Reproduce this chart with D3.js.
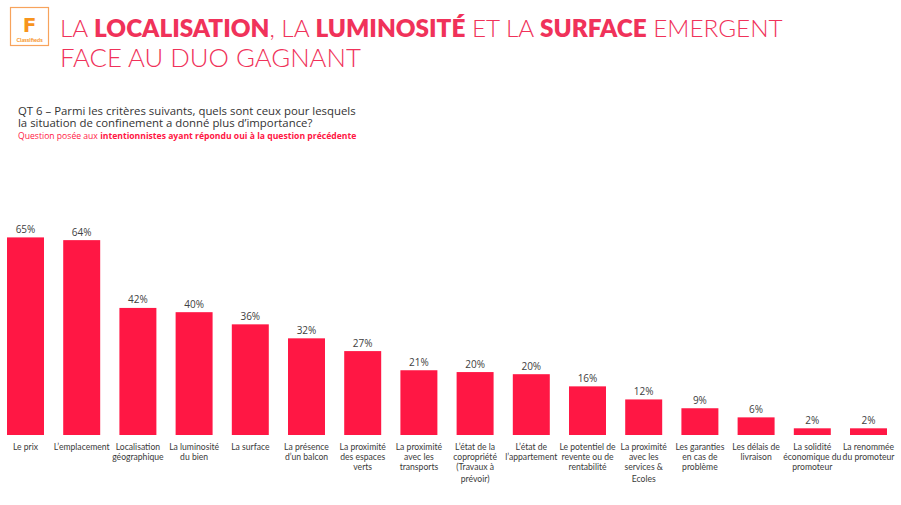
<!DOCTYPE html>
<html lang="fr">
<head>
<meta charset="UTF-8">
<title>Critères confinement</title>
<script src="https://cdn.jsdelivr.net/npm/d3@7"></script>
<style>
    body { margin: 0; background: #fff; }
    svg { display: block; }
    .cat { font-family: Lato, "Open Sans", sans-serif; font-size: 8.6px; fill: #3a3a3a; }
    .val { font-family: "Open Sans", sans-serif; font-size: 10px; fill: #404040; }
</style>
</head>
<body>
<script>
    // categories (lines separated by |)
    var categories = [
        "Le prix", "L’emplacement", "Localisation|géographique", "La luminosité|du bien",
        "La surface", "La présence|d’un balcon", "La proximité|des espaces|verts",
        "La proximité|avec les|transports", "L’état de la|copropriété|(Travaux à|prévoir)",
        "L’état de|l’appartement", "Le potentiel de|revente ou de|rentabilité",
        "La proximité|avec les|services &|Ecoles", "Les garanties|en cas de|problème",
        "Les délais de|livraison", "La solidité|économique du|promoteur", "La renommée|du promoteur"
    ];
    // bar heights as read on the picture
    var values = [65, 64.1, 41.8, 40.4, 36.4, 31.8, 27.6, 21.3, 20.7, 20, 16, 11.7, 8.8, 5.8, 2.2, 2.2];
    // printed labels
    var valueLabels = ["65%", "64%", "42%", "40%", "36%", "32%", "27%", "21%", "20%", "20%", "16%", "12%", "9%", "6%", "2%", "2%"];

    var W = 901, H = 505;
    var red = "#ff1744", titleRed = "#f0325a", orange = "#f7941d";

    var svg = d3.select("body").append("svg")
        .attr("width", W).attr("height", H);

    // logo
    var logo = svg.append("g");
    logo.append("rect").attr("x", 10.5).attr("y", 7.5).attr("width", 38).attr("height", 38)
        .attr("fill", "#fff").attr("stroke", "#f7a35c").attr("stroke-width", 1.2);
    logo.append("text").attr("x", 29.5).attr("y", 32)
        .attr("text-anchor", "middle")
        .style("font-family", "'DejaVu Sans', sans-serif").style("font-weight", "bold")
        .style("font-size", "20px").attr("fill", orange).text("F");
    logo.append("text").attr("x", 29.5).attr("y", 41.5)
        .attr("text-anchor", "middle")
        .style("font-family", "Lato, sans-serif").style("font-weight", "bold")
        .style("font-size", "5.6px").attr("fill", orange).text("Classifieds");

    // title
    var title = svg.append("g")
        .style("font-family", "Lato, 'Open Sans', sans-serif")
        .style("font-size", "25px").attr("fill", titleRed);
    var t1 = title.append("text").attr("x", 60).attr("y", 37);
    [["LA ", 300], ["LOCALISATION", 800], [", LA ", 300], ["LUMINOSITÉ", 800],
     [" ET LA ", 300], ["SURFACE", 800], [" EMERGENT", 300]].forEach(function (p) {
        t1.append("tspan").style("font-weight", p[1]).text(p[0]);
    });
    var t2 = title.append("text").attr("x", 60).attr("y", 67).style("font-weight", 300)
        .text("FACE AU DUO GAGNANT");
    // size each title line to the reference width
    t1.style("font-size", (25 * 723 / t1.node().getComputedTextLength()) + "px");
    t2.style("font-size", (25 * 301 / t2.node().getComputedTextLength()) + "px");

    // question
    var q = svg.append("g").style("font-family", "'Open Sans', sans-serif");
    var q1 = q.append("text").attr("x", 18).attr("y", 115).style("font-size", "11px").attr("fill", "#333")
        .text("QT 6 – Parmi les critères suivants, quels sont ceux pour lesquels");
    q1.style("font-size", (11 * 338 / q1.node().getComputedTextLength()) + "px");
    q.append("text").attr("x", 18).attr("y", 127).style("font-size", q1.style("font-size")).attr("fill", "#333")
        .text("la situation de confinement a donné plus d’importance?");
    var q3 = q.append("text").attr("x", 18).attr("y", 139).style("font-size", "8.5px").attr("fill", red);
    q3.append("tspan").text("Question posée aux ");
    q3.append("tspan").style("font-weight", "bold").text("intentionnistes ayant répondu oui à la question précédente");
    q3.style("font-size", (8.5 * 339 / q3.node().getComputedTextLength()) + "px");

    // scales
    var x = d3.scaleBand()
        .domain(d3.range(categories.length))
        .range([-2.6, 896.6])
        .paddingInner(0.342)
        .paddingOuter(0.171);
    var y = d3.scaleLinear().domain([0, 100]).range([435, 131]);

    svg.append("g").selectAll("rect")
        .data(values).enter().append("rect")
        .attr("x", function (d, i) { return x(i); })
        .attr("y", function (d) { return y(d); })
        .attr("width", x.bandwidth())
        .attr("height", function (d) { return y(0) - y(d); })
        .attr("fill", red);

    svg.append("g").selectAll("text")
        .data(values).enter().append("text")
        .attr("class", "val")
        .attr("text-anchor", "middle")
        .attr("x", function (d, i) { return x(i) + x.bandwidth() / 2; })
        .attr("y", function (d) { return y(d) - 4.5; })
        .text(function (d, i) { return valueLabels[i]; });

    var cats = svg.append("g").selectAll("text")
        .data(categories).enter().append("text")
        .attr("class", "cat")
        .attr("text-anchor", "middle")
        .attr("transform", function (d, i) { return "translate(" + (x(i) + x.bandwidth() / 2) + ",449.5)"; });
    cats.selectAll("tspan")
        .data(function (d) { return d.split("|"); })
        .enter().append("tspan")
        .attr("x", 0)
        .attr("y", function (d, j) { return j * 10 + (j === 3 ? 2.5 : 0); })
        .text(function (d) { return d; });
</script>
</body>
</html>
